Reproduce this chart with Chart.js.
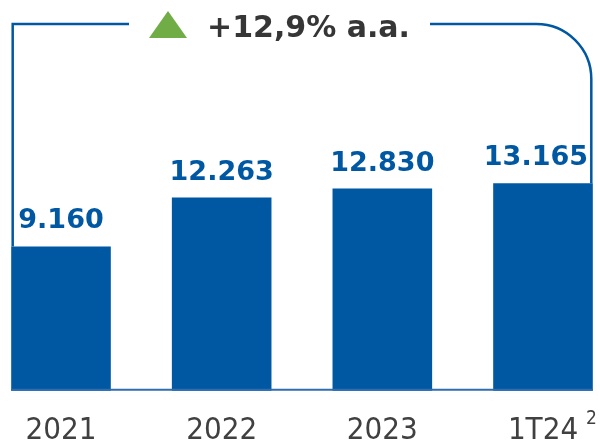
<!DOCTYPE html>
<html lang="pt-BR">
<head>
  <meta charset="UTF-8" />
  <title>Crescimento anual</title>
  <script src="https://cdn.jsdelivr.net/npm/chart.js"></script>
  <style>
    body {
      margin: 0;
      background: #ffffff;
      overflow: hidden;
    }
    #chart {
      display: block;
    }
  </style>
</head>
<body>

  <canvas id="chart" width="600" height="445"></canvas>

  <script>
    const categories = ['2021', '2022', '2023', '1T24'];
    const values = [9160, 12263, 12830, 13165];
    const footnotes = ['', '', '', '2'];
    const growthLabel = '+12,9% a.a.';

    const blue = '#0057A2';
    const grey = '#404040';
    const tickFont = "'DejaVu Sans Condensed', 'Liberation Sans', sans-serif";
    const boldFont = "'DejaVu Sans', Verdana, sans-serif";

    // pt-BR thousands separator
    function fmt(v) {
      return String(v).replace(/\B(?=(\d{3})+(?!\d))/g, '.');
    }

    const overlay = {
      id: 'overlay',
      afterDatasetsDraw(chart) {
        const ctx = chart.ctx;
        const bars = chart.getDatasetMeta(0).data;
        const first = bars[0], last = bars[bars.length - 1];
        const y0 = chart.scales.y.getPixelForValue(0);

        ctx.save();

        // baseline
        ctx.strokeStyle = '#2E6EB0';
        ctx.lineWidth = 2;
        ctx.beginPath();
        ctx.moveTo(first.x - first.width / 2, y0 - 1);
        ctx.lineTo(last.x + last.width / 2, y0 - 1);
        ctx.stroke();

        // value labels (kept inside the canvas on the right)
        ctx.fillStyle = blue;
        ctx.font = 'bold 27px ' + boldFont;
        ctx.textAlign = 'center';
        ctx.textBaseline = 'alphabetic';
        bars.forEach((b, i) => {
          const txt = fmt(values[i]);
          const w = ctx.measureText(txt).width;
          const x = Math.min(b.x, chart.width - 12 - w / 2);
          ctx.fillText(txt, x, b.y - 18);
        });

        // growth bracket
        const topY = 24, r = 55;
        const lx = first.x - first.width / 2 + 1.5;
        const rx = last.x + last.width / 2 - 1.5;
        ctx.strokeStyle = blue;
        ctx.lineWidth = 2.5;
        ctx.beginPath();
        ctx.moveTo(lx, first.y);
        ctx.lineTo(lx, topY);
        ctx.lineTo(129, topY);
        ctx.stroke();
        ctx.beginPath();
        ctx.moveTo(430, topY);
        ctx.lineTo(rx - r, topY);
        ctx.arcTo(rx, topY, rx, topY + r, r);
        ctx.lineTo(rx, last.y);
        ctx.stroke();

        // green triangle + growth text
        ctx.fillStyle = '#70AD47';
        ctx.beginPath();
        ctx.moveTo(168, 11);
        ctx.lineTo(187, 38);
        ctx.lineTo(149, 38);
        ctx.closePath();
        ctx.fill();

        ctx.fillStyle = '#363636';
        ctx.font = 'bold 30px ' + boldFont;
        ctx.textAlign = 'left';
        ctx.fillText(growthLabel, 207, 37);

        // footnote marks on tick labels
        const xs = chart.scales.x;
        ctx.font = '31px ' + tickFont;
        footnotes.forEach((f, i) => {
          if (!f) return;
          const w = ctx.measureText(categories[i]).width;
          const px = xs.getPixelForTick(i) + w / 2 + 8;
          ctx.fillStyle = grey;
          ctx.font = '19px ' + tickFont;
          ctx.fillText(f, px, 424);
          ctx.font = '31px ' + tickFont;
        });

        ctx.restore();
      }
    };

    new Chart(document.getElementById('chart'), {
      type: 'bar',
      data: {
        labels: categories,
        datasets: [{
          data: values,
          backgroundColor: blue,
          borderWidth: 0,
          categoryPercentage: 1,
          barPercentage: 0.62,
          clip: false
        }]
      },
      options: {
        responsive: false,
        animation: false,
        devicePixelRatio: 1,
        layout: { padding: { left: 61, right: 57, top: 0, bottom: -19 } },
        scales: {
          x: {
            offset: false,
            grid: { display: false },
            border: { display: false },
            ticks: {
              color: grey,
              font: { family: tickFont, size: 31 },
              padding: 14,
              maxRotation: 0
            }
          },
          y: {
            display: false,
            min: 0,
            max: 24800
          }
        },
        plugins: {
          legend: { display: false },
          tooltip: { enabled: false }
        }
      },
      plugins: [overlay]
    });
  </script>
</body>
</html>
